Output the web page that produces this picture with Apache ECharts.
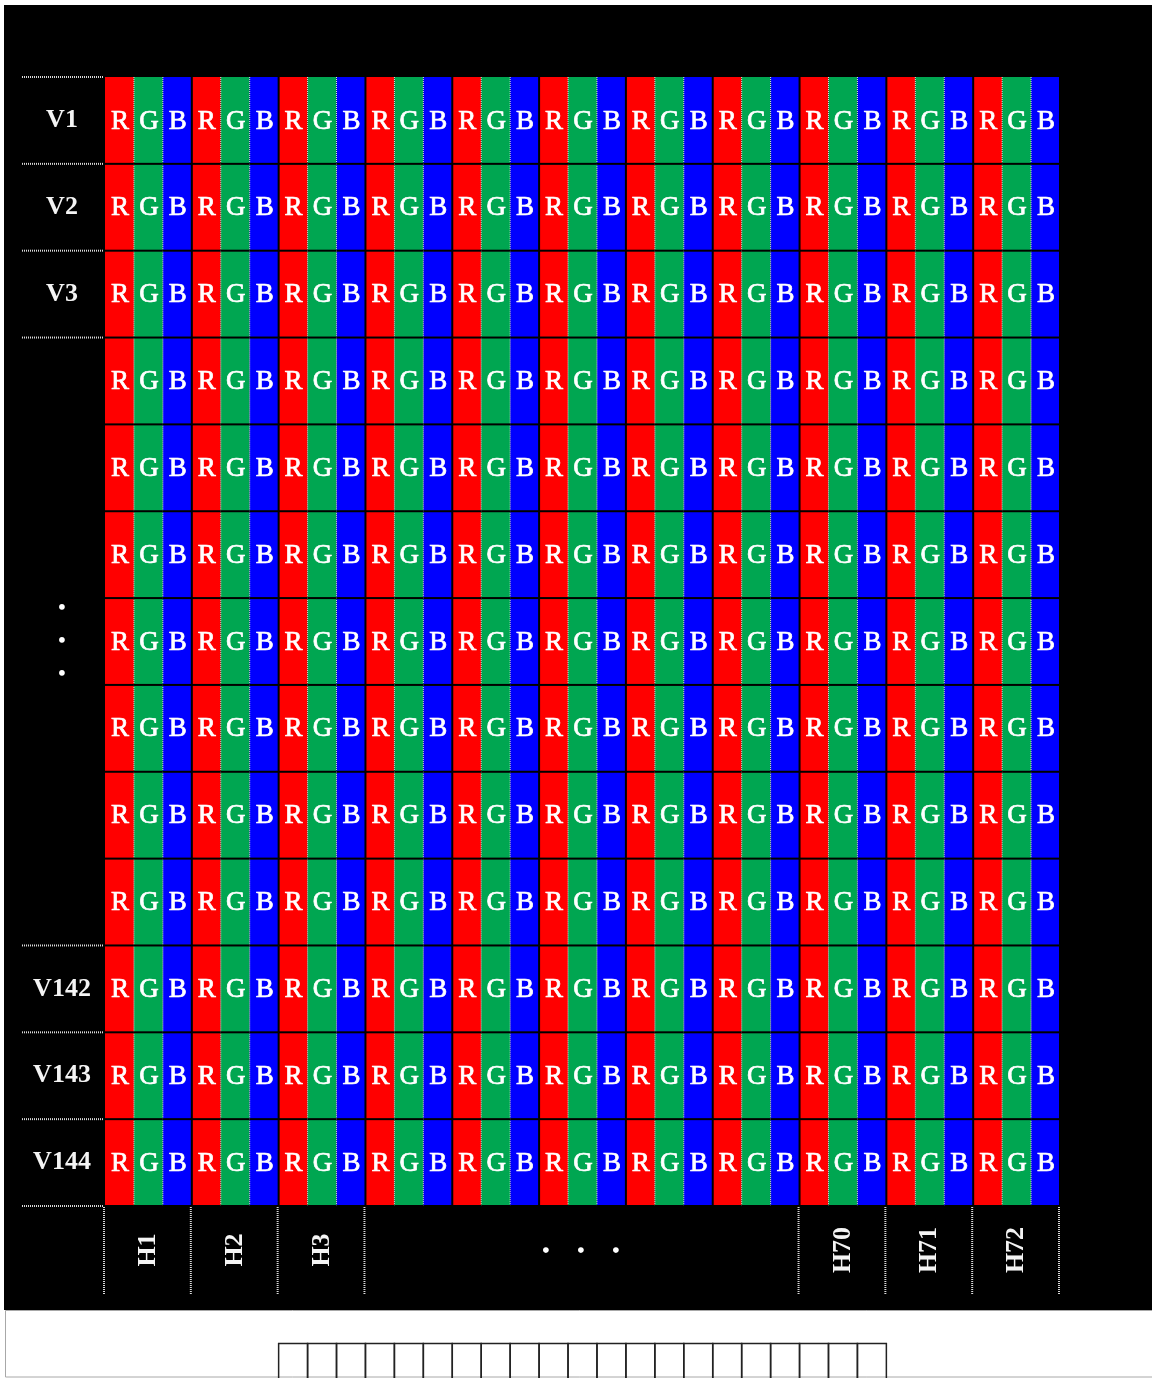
<!DOCTYPE html>
<html><head><meta charset="utf-8">
<script src="https://cdn.jsdelivr.net/npm/echarts@6.0.0/dist/echarts.min.js"></script>
<style>html,body{margin:0;padding:0;background:#fff}#c{width:1152px;height:1378px}</style>
</head><body><div id="c"></div>
<script>
// ---- data ----
const channels = ['R', 'G', 'B'];
const channelColors = ['#ff0000', '#00a651', '#0000ff'];
const groupLabels = ['H1', 'H2', 'H3', '', '', '…', '', '', 'H70', 'H71', 'H72'];
const rowLabels = ['V1', 'V2', 'V3', '', '', '', '…', '', '', '', 'V142', 'V143', 'V144'];
const stripStartCol = 6;
const stripCount = 21;

// ---- derived ----
const nGroups = groupLabels.length;
const nCols = nGroups * channels.length;
const nRows = rowLabels.length;
const isName = s => s !== '' && s !== '…';

const cells = [];
for (let r = 0; r < nRows; r++)
  for (let g = 0; g < nGroups; g++)
    for (let c = 0; c < channels.length; c++)
      cells.push([g * 3 + c, r, c]);

const guides = [];
for (let k = 0; k <= nRows; k++) {
  if ((k > 0 && isName(rowLabels[k - 1])) || (k < nRows && isName(rowLabels[k]))) guides.push([0, k]);
}
for (let k = 0; k <= nGroups; k++) {
  if ((k > 0 && isName(groupLabels[k - 1])) || (k < nGroups && isName(groupLabels[k]))) guides.push([1, k]);
}
const strip = [];
for (let i = 0; i < stripCount; i++) strip.push([stripStartCol + i, 0]);

const FONT = '"Liberation Serif", "DejaVu Serif", serif';
const dots = '{d|•}\n{d|•}\n{d|•}';

function renderCell(params, api) {
  const col = api.value(0), row = api.value(1), ch = api.value(2);
  const p0 = api.coord([col, row]);
  const p1 = api.coord([col + 1, row + 1]);
  const x = p0[0], y = p0[1], w = p1[0] - p0[0], h = p1[1] - p0[1];
  const children = [
    { type: 'rect', z2: 0, shape: { x: x, y: y, width: w, height: h }, style: { fill: channelColors[ch] } },
    { type: 'text', z2: 5, style: { text: channels[ch], x: x + w / 2 + 0.5, y: y + h / 2 + 1, fill: '#fff',
        stroke: '#fff', lineWidth: 0.7,
        fontFamily: FONT, fontSize: 27, fontWeight: 'normal', align: 'center', verticalAlign: 'middle' } },
    { type: 'line', z2: 10, shape: { x1: x, y1: y + h, x2: x + w, y2: y + h }, style: { stroke: '#000', lineWidth: 2 } }
  ];
  if (ch < 2) {
    children.push({ type: 'line', z2: 8, shape: { x1: x + w, y1: y, x2: x + w, y2: y + h },
      style: { stroke: '#e6e6e6', lineWidth: 1, lineDash: [1, 1] } });
  } else {
    children.push({ type: 'line', z2: 10, shape: { x1: x + w, y1: y, x2: x + w, y2: y + h },
      style: { stroke: '#000', lineWidth: 2 } });
  }
  return { type: 'group', children: children };
}

function renderGuide(params, api) {
  const kind = api.value(0), k = api.value(1);
  const origin = api.coord([0, 0]);
  const bottom = api.coord([0, nRows])[1];
  if (kind === 0) {
    const y = api.coord([0, k])[1];
    return { type: 'line', shape: { x1: origin[0] - 83, y1: y, x2: origin[0] - 2, y2: y },
      style: { stroke: '#d8d8d8', lineWidth: 2, lineDash: [1, 1] } };
  }
  const x = api.coord([k * 3, 0])[0] - 1;
  return { type: 'line', shape: { x1: x, y1: bottom + 1, x2: x, y2: bottom + 89 },
    style: { stroke: '#d8d8d8', lineWidth: 2, lineDash: [1, 1] } };
}

function renderStrip(params, api) {
  const col = api.value(0);
  const x0 = api.coord([col, 0])[0];
  const x1 = api.coord([col + 1, 0])[0];
  const bottom = api.coord([0, nRows])[1];
  const top = bottom + 137.5;
  return { type: 'rect', shape: { x: x0, y: top, width: x1 - x0, height: 80 },
    style: { fill: 'none', stroke: '#222', lineWidth: 1.5 } };
}

const chart = echarts.init(document.getElementById('c'), null, { renderer: 'canvas' });
chart.setOption({
  backgroundColor: '#fff',
  animation: false,
  graphic: [
    { type: 'rect', z: -10, shape: { x: 4, y: 5, width: 1148, height: 1305 }, style: { fill: '#000' } },
    { type: 'rect', z: -10, shape: { x: 5.5, y: 1310.5, width: 1160, height: 66.5 }, style: { fill: '#fff', stroke: '#a8a8a8', lineWidth: 1 } }
  ],
  grid: { left: 105, top: 77, width: 955, height: 1129, containLabel: false, outerBoundsMode: 'none' },
  xAxis: [
    { type: 'value', min: 0, max: nCols, show: false },
    { type: 'category', data: groupLabels, position: 'bottom',
      axisLine: { show: false }, axisTick: { show: false }, splitLine: { show: false },
      axisLabel: { interval: 0, rotate: 90, align: 'center', verticalAlign: 'middle', margin: 44,
        color: '#f4f4f4', fontFamily: FONT, fontWeight: 'bold', fontSize: 26,
        formatter: v => v === '…' ? dots : v,
        rich: { d: { fontSize: 21, lineHeight: 35, color: '#fff', fontFamily: FONT } } } }
  ],
  yAxis: [
    { type: 'value', min: 0, max: nRows, inverse: true, show: false },
    { type: 'category', data: rowLabels, inverse: true, position: 'left',
      axisLine: { show: false }, axisTick: { show: false }, splitLine: { show: false },
      axisLabel: { interval: 0, align: 'center', verticalAlign: 'middle', margin: 43,
        color: '#f4f4f4', fontFamily: FONT, fontWeight: 'bold', fontSize: 26,
        formatter: v => v === '…' ? dots : v,
        rich: { d: { fontSize: 21, lineHeight: 33, color: '#fff', fontFamily: FONT } } } }
  ],
  series: [
    { type: 'custom', xAxisIndex: 0, yAxisIndex: 0, data: cells, renderItem: renderCell, silent: true, z: 2 },
    { type: 'custom', xAxisIndex: 0, yAxisIndex: 0, data: guides, renderItem: renderGuide, silent: true, z: 3 },
    { type: 'custom', xAxisIndex: 0, yAxisIndex: 0, data: strip, renderItem: renderStrip, silent: true, z: 3 }
  ]
});
</script></body></html>
